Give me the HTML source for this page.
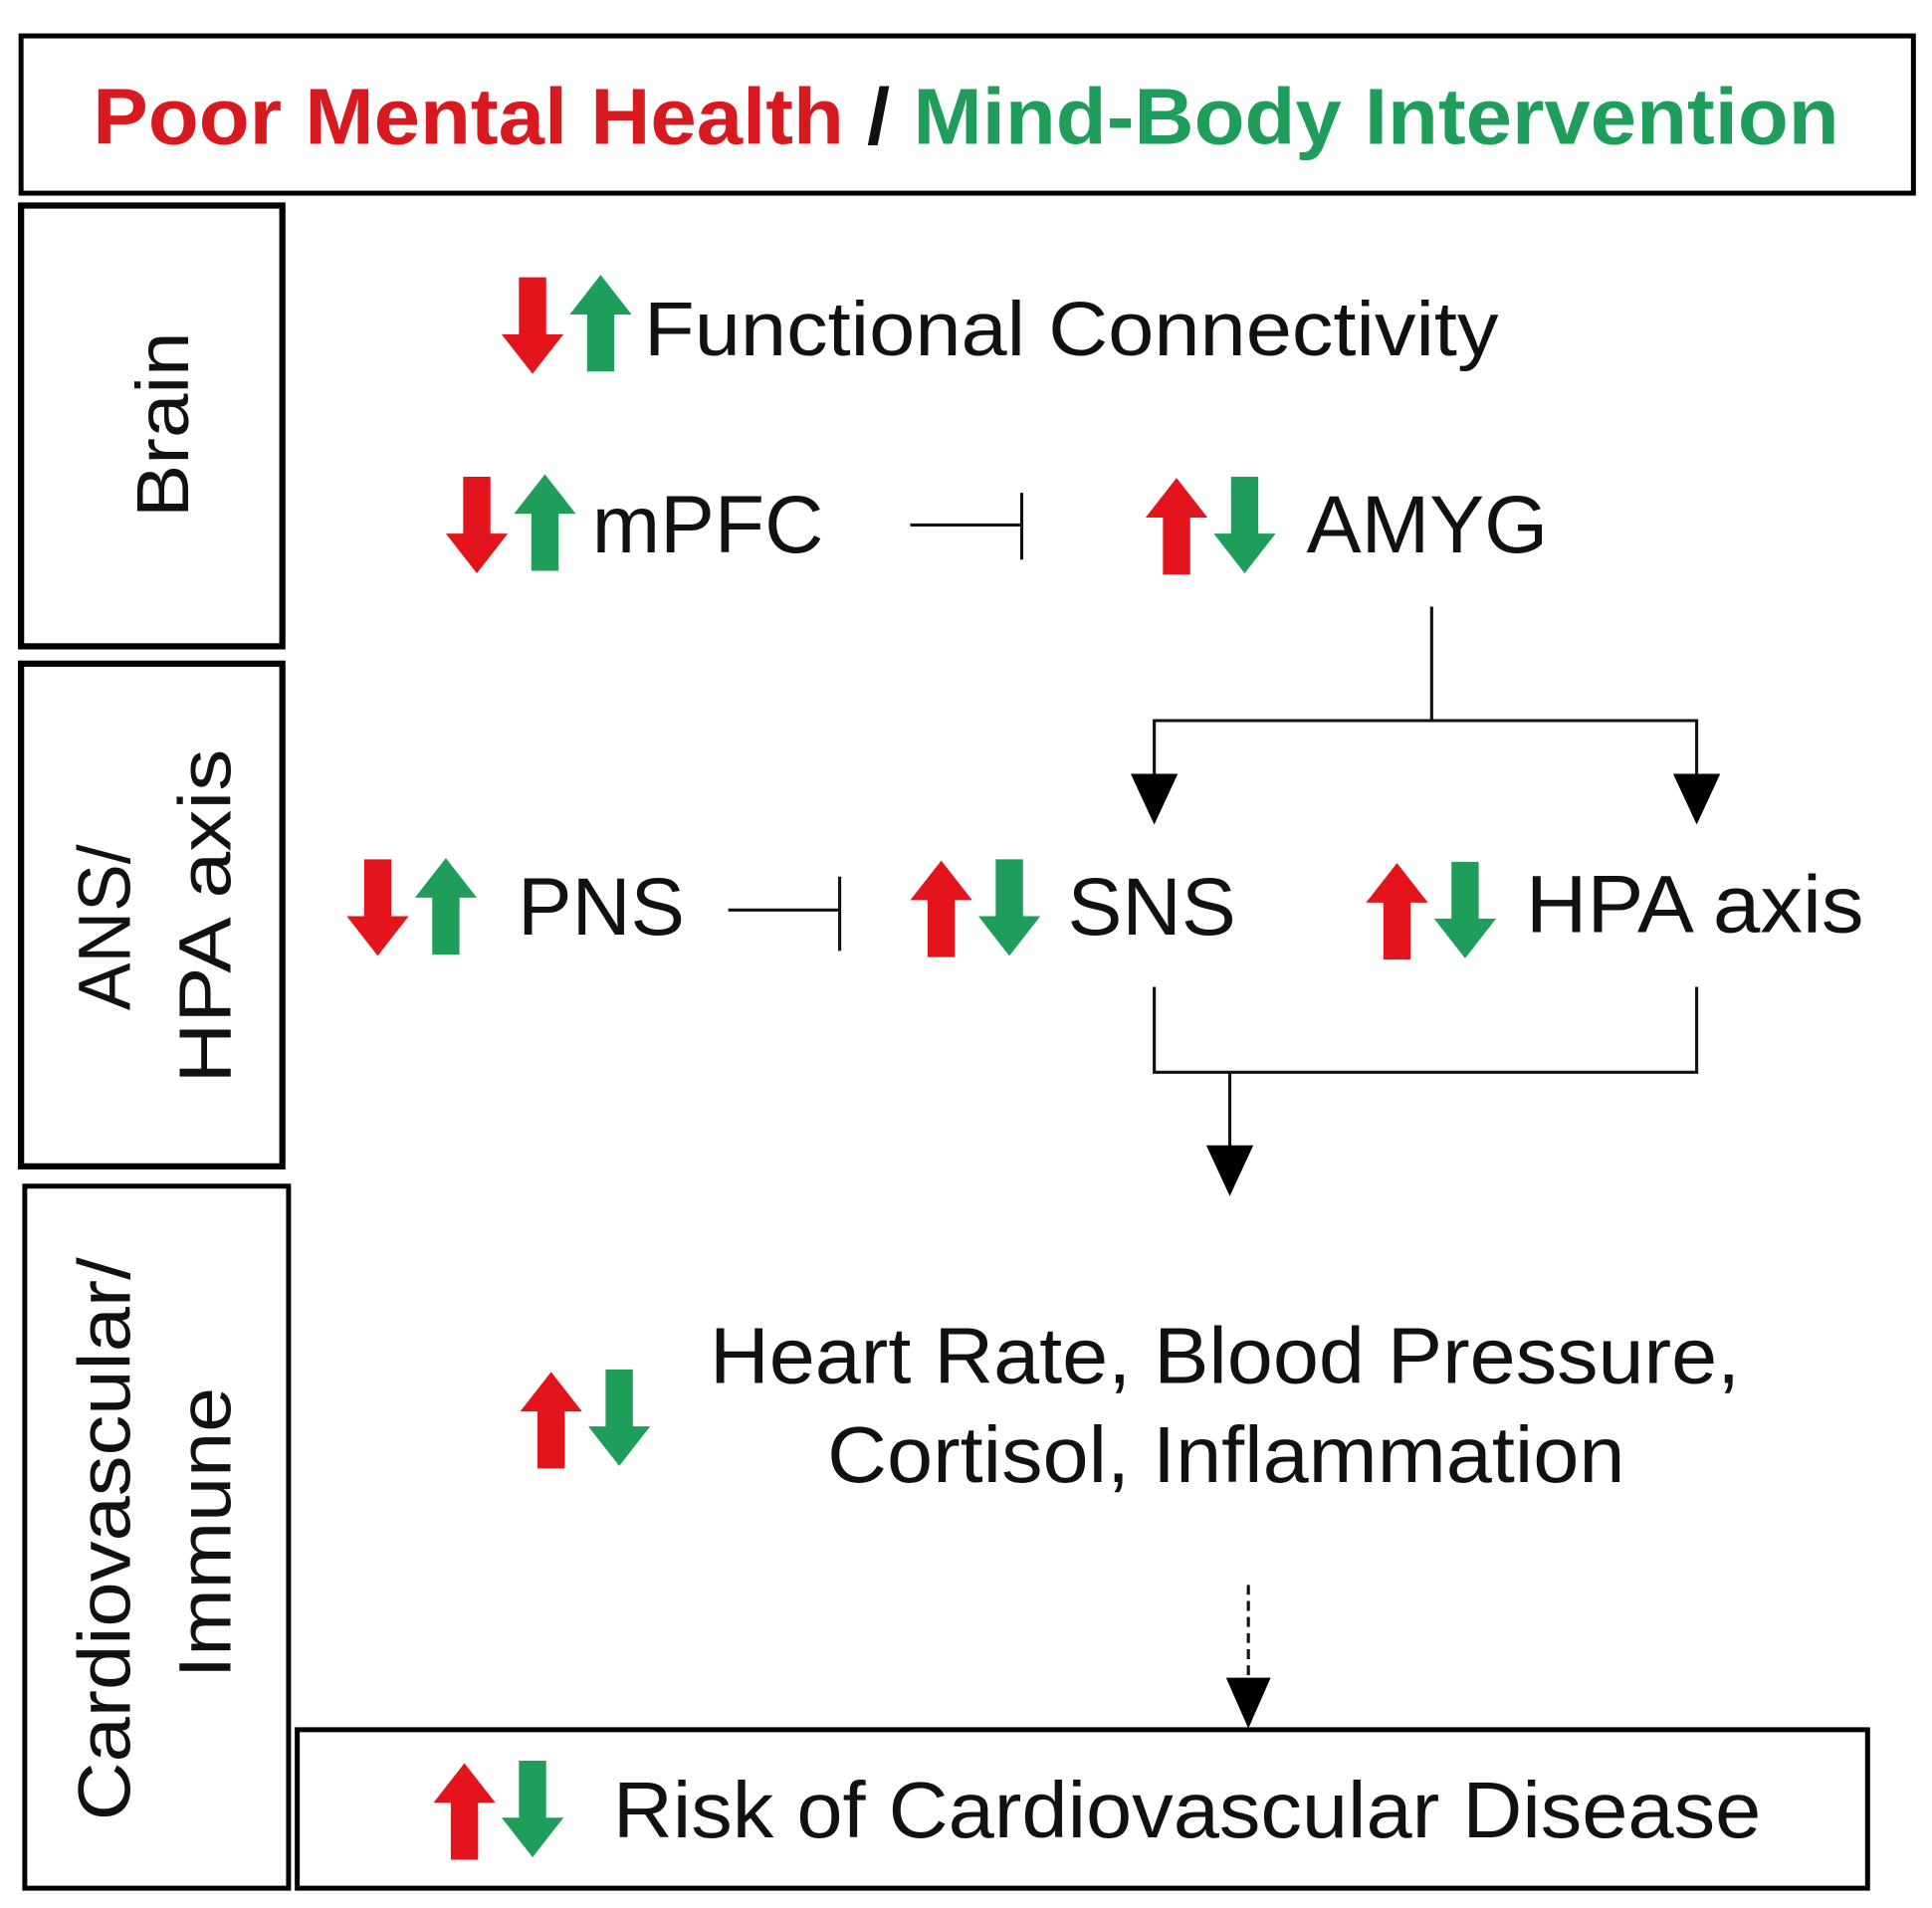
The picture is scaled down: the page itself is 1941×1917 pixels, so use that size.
<!DOCTYPE html>
<html><head><meta charset="utf-8"><style>
html,body{margin:0;padding:0;background:#fff;}
svg{display:block;}
text{font-family:"Liberation Sans",Arial,sans-serif;fill:#111;}
</style></head><body>
<svg width="1941" height="1917" viewBox="0 0 1560 1541" preserveAspectRatio="none" xmlns="http://www.w3.org/2000/svg">
<defs>
<polygon id="up" points="25,0 50,32 36,32 36,78 14,78 14,32 0,32"/>
<polygon id="dn" points="25,78 50,46 36,46 36,0 14,0 14,46 0,46"/>
</defs>
<g fill="none" stroke="#000">
<rect x="17" y="29" width="1528" height="127" stroke-width="4"/>
<rect x="17" y="166" width="211" height="356" stroke-width="5"/>
<rect x="17" y="536" width="211" height="406" stroke-width="5"/>
<rect x="20" y="958" width="213" height="567" stroke-width="4"/>
<rect x="240" y="1397" width="1268" height="128" stroke-width="4"/>
</g>
<text x="75" y="116" font-size="64" font-weight="bold" textLength="1410" lengthAdjust="spacingAndGlyphs"><tspan fill="#d71920">Poor Mental Health</tspan><tspan fill="#111"> / </tspan><tspan fill="#1e9e5a">Mind-Body Intervention</tspan></text>
<text transform="translate(152,343) rotate(-90)" font-size="60" text-anchor="middle" textLength="150" lengthAdjust="spacingAndGlyphs">Brain</text>
<text transform="translate(105,749) rotate(-90)" font-size="60" text-anchor="middle" textLength="134" lengthAdjust="spacingAndGlyphs">ANS/</text>
<text transform="translate(186,740) rotate(-90)" font-size="60" text-anchor="middle" textLength="270" lengthAdjust="spacingAndGlyphs">HPA axis</text>
<text transform="translate(105,1243) rotate(-90)" font-size="60" text-anchor="middle" textLength="455" lengthAdjust="spacingAndGlyphs">Cardiovascular/</text>
<text transform="translate(186,1238) rotate(-90)" font-size="60" text-anchor="middle" textLength="235" lengthAdjust="spacingAndGlyphs">Immune</text>
<use href="#dn" x="405" y="224" fill="#e3141b"/><use href="#up" x="460" y="222" fill="#1e9e5a"/>
<use href="#dn" x="360" y="385" fill="#e3141b"/><use href="#up" x="415" y="383" fill="#1e9e5a"/>
<use href="#up" x="925" y="386" fill="#e3141b"/><use href="#dn" x="980" y="385" fill="#1e9e5a"/>
<use href="#dn" x="280" y="694" fill="#e3141b"/><use href="#up" x="335" y="693" fill="#1e9e5a"/>
<use href="#up" x="735" y="695" fill="#e3141b"/><use href="#dn" x="790" y="694" fill="#1e9e5a"/>
<use href="#up" x="1103" y="697" fill="#e3141b"/><use href="#dn" x="1158" y="696" fill="#1e9e5a"/>
<use href="#up" x="420" y="1108" fill="#e3141b"/><use href="#dn" x="475" y="1106" fill="#1e9e5a"/>
<use href="#up" x="350" y="1424" fill="#e3141b"/><use href="#dn" x="405" y="1422" fill="#1e9e5a"/>
<text x="520" y="287" font-size="62" textLength="690" lengthAdjust="spacingAndGlyphs">Functional Connectivity</text>
<text x="478" y="446" font-size="66" textLength="187" lengthAdjust="spacingAndGlyphs">mPFC</text>
<text x="1055" y="446" font-size="66" textLength="195" lengthAdjust="spacingAndGlyphs">AMYG</text>
<text x="418" y="755" font-size="66" textLength="135" lengthAdjust="spacingAndGlyphs">PNS</text>
<text x="862" y="755" font-size="66" textLength="136" lengthAdjust="spacingAndGlyphs">SNS</text>
<text x="1232" y="753" font-size="66" textLength="273" lengthAdjust="spacingAndGlyphs">HPA axis</text>
<text x="573" y="1117" font-size="64" textLength="832" lengthAdjust="spacingAndGlyphs">Heart Rate, Blood Pressure,</text>
<text x="668" y="1197" font-size="64" textLength="644" lengthAdjust="spacingAndGlyphs">Cortisol, Inflammation</text>
<text x="495" y="1484" font-size="64" textLength="927" lengthAdjust="spacingAndGlyphs">Risk of Cardiovascular Disease</text>
<g stroke="#111" fill="none" stroke-width="2.5">
<path d="M735 424 H825 M825 398 V452"/>
<path d="M588 735 H678 M678 708 V768"/>
<path d="M1156 490 V582 M932 628 V582 H1370 V628"/>
<path d="M932 797 V866 H1370 V797 M993 866 V928"/>
<path d="M1008 1280 V1358" stroke-dasharray="8,5"/>
</g>
<g fill="#000">
<polygon points="913,625 951,625 932,666"/>
<polygon points="1351,625 1389,625 1370,666"/>
<polygon points="974,925 1012,925 993,966"/>
<polygon points="990,1355 1026,1355 1008,1396"/>
</g>
</svg>
</body></html>
